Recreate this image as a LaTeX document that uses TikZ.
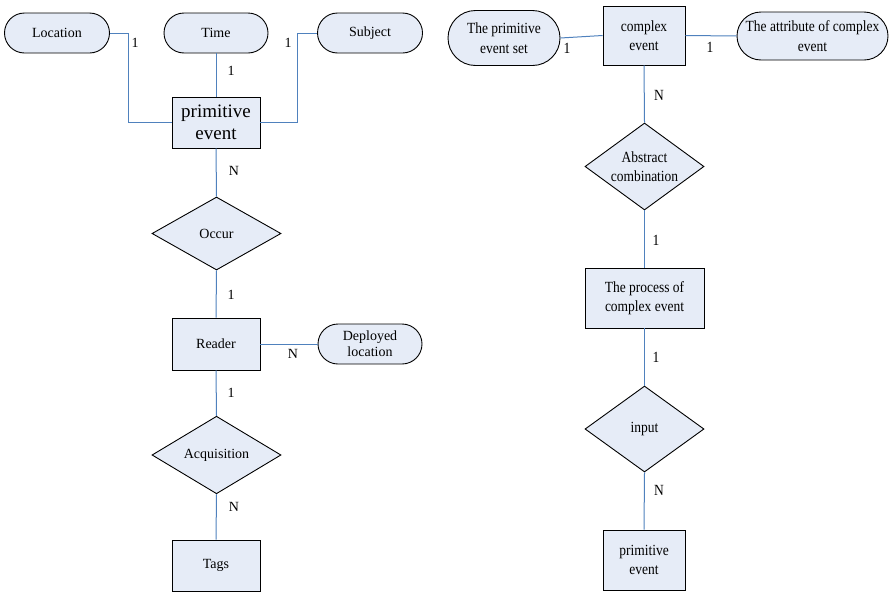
\documentclass[tikz,border=0pt]{standalone}
\usepackage{fontspec}
\setmainfont{Liberation Serif}
\newfontfamily\condfont[FakeStretch=0.87]{Liberation Serif}
\usetikzlibrary{shapes.geometric}
\definecolor{fillc}{HTML}{E6ECF7}
\definecolor{linec}{HTML}{4F81BD}
\tikzset{
  ent/.style={draw=black, fill=fillc, line width=0.9pt, rectangle, inner sep=0pt, align=center, font=\fontsize{14}{15.5}\selectfont},
  attr/.style={draw=black, fill=fillc, line width=0.9pt, rectangle, inner sep=0pt, align=center, font=\fontsize{14}{15.5}\selectfont},
  rel/.style={draw=black, fill=fillc, line width=0.9pt, diamond, inner sep=0pt, align=center, font=\fontsize{14}{15.5}\selectfont},
  rtext/.style={font=\condfont\fontsize{15.5}{19.5}\selectfont},
  conn/.style={draw=linec, line width=1pt},
  card/.style={inner sep=0pt, font=\fontsize{14}{15}\selectfont},
  rcard/.style={inner sep=0pt, font=\condfont\fontsize{15.5}{16}\selectfont}
}
\begin{document}
\begin{tikzpicture}[x=1pt,y=-1pt]
\useasboundingbox (0,0) rectangle (890,592);
% left part
\node[attr, minimum width=105pt, minimum height=40pt, rounded corners=20pt] (loc) at (57,33) {Location};
\node[attr, minimum width=104pt, minimum height=40pt, rounded corners=20pt] (time) at (216,33) {Time};
\node[attr, minimum width=105pt, minimum height=40pt, rounded corners=20pt] (subj) at (370,33) {Subject};
\node[ent, minimum width=88pt, minimum height=51pt, font=\fontsize{19}{22}\selectfont] (pe) at (216,122.5) {primitive\\event};
\node[rel, minimum width=129pt, minimum height=73pt] (occur) at (216.5,233.5) {Occur};
\node[ent, minimum width=88pt, minimum height=52pt] (reader) at (216,344) {Reader};
\node[attr, minimum width=104pt, minimum height=40pt, rounded corners=20pt, font=\fontsize{14}{16}\selectfont] (dep) at (370,344) {Deployed\\location};
\node[rel, minimum width=129pt, minimum height=74pt] (acq) at (216.5,455) {Acquisition};
\node[ent, minimum width=88pt, minimum height=51pt] (tags) at (216,565.5) {Tags};

\draw[conn] (loc.east) -- ++(19,0) |- (pe.west);
\draw[conn] (pe.east) -- ++(37,0) |- (subj.west);
\draw[conn] (time.south) -- (pe.north);
\draw[conn] (pe.south) -- (occur.north);
\draw[conn] (occur.south) -- (reader.north);
\draw[conn] (reader.east) -- (dep.west);
\draw[conn] (reader.south) -- (acq.north);
\draw[conn] (acq.south) -- (tags.north);

\node[card] (c1) at (135,43) {1};
\node[card] (c2) at (231,71) {1};
\node[card] (c3) at (288,43) {1};
\node[card] (c4) at (234,171) {N};
\node[card] (c5) at (231,295) {1};
\node[card] (c6) at (293,354) {N};
\node[card] (c7) at (231,393) {1};
\node[card] (c8) at (234,507) {N};

% right part
\node[ent, rtext, minimum width=82pt, minimum height=59pt] (ce) at (644,35.5) {complex\\event};
\node[attr, rtext, minimum width=112pt, minimum height=55pt, rounded corners=27.5pt] (pes) at (504,38) {The primitive\\event set};
\node[attr, rtext, minimum width=151pt, minimum height=48pt, rounded corners=24pt] (cattr) at (812.5,36) {The attribute of complex\\event};
\node[rel, rtext, minimum width=119pt, minimum height=87pt, aspect=1.37, inner sep=-4pt] (abs) at (644.5,166.5) {Abstract\\combination};
\node[ent, rtext, minimum width=119pt, minimum height=60pt] (proc) at (644.5,298) {The process of\\complex event};
\node[rel, rtext, minimum width=119pt, minimum height=86pt, aspect=1.37] (inp) at (644.5,429) {input};
\node[ent, rtext, minimum width=82pt, minimum height=60pt] (pe2) at (644,560) {primitive\\event};

\draw[conn] (pes.east) -- (ce.west);
\draw[conn] (ce.east) -- (cattr.west);
\draw[conn] (ce.south) -- (abs.north);
\draw[conn] (abs.south) -- (proc.north);
\draw[conn] (proc.south) -- (inp.north);
\draw[conn] (inp.south) -- (pe2.north);

\node[rcard] (c9) at (567,48) {1};
\node[rcard] (c10) at (710,47) {1};
\node[rcard] (c11) at (659,95) {N};
\node[rcard] (c12) at (656,240) {1};
\node[rcard] (c13) at (656,357) {1};
\node[rcard] (c14) at (659,490) {N};
\end{tikzpicture}
\end{document}
